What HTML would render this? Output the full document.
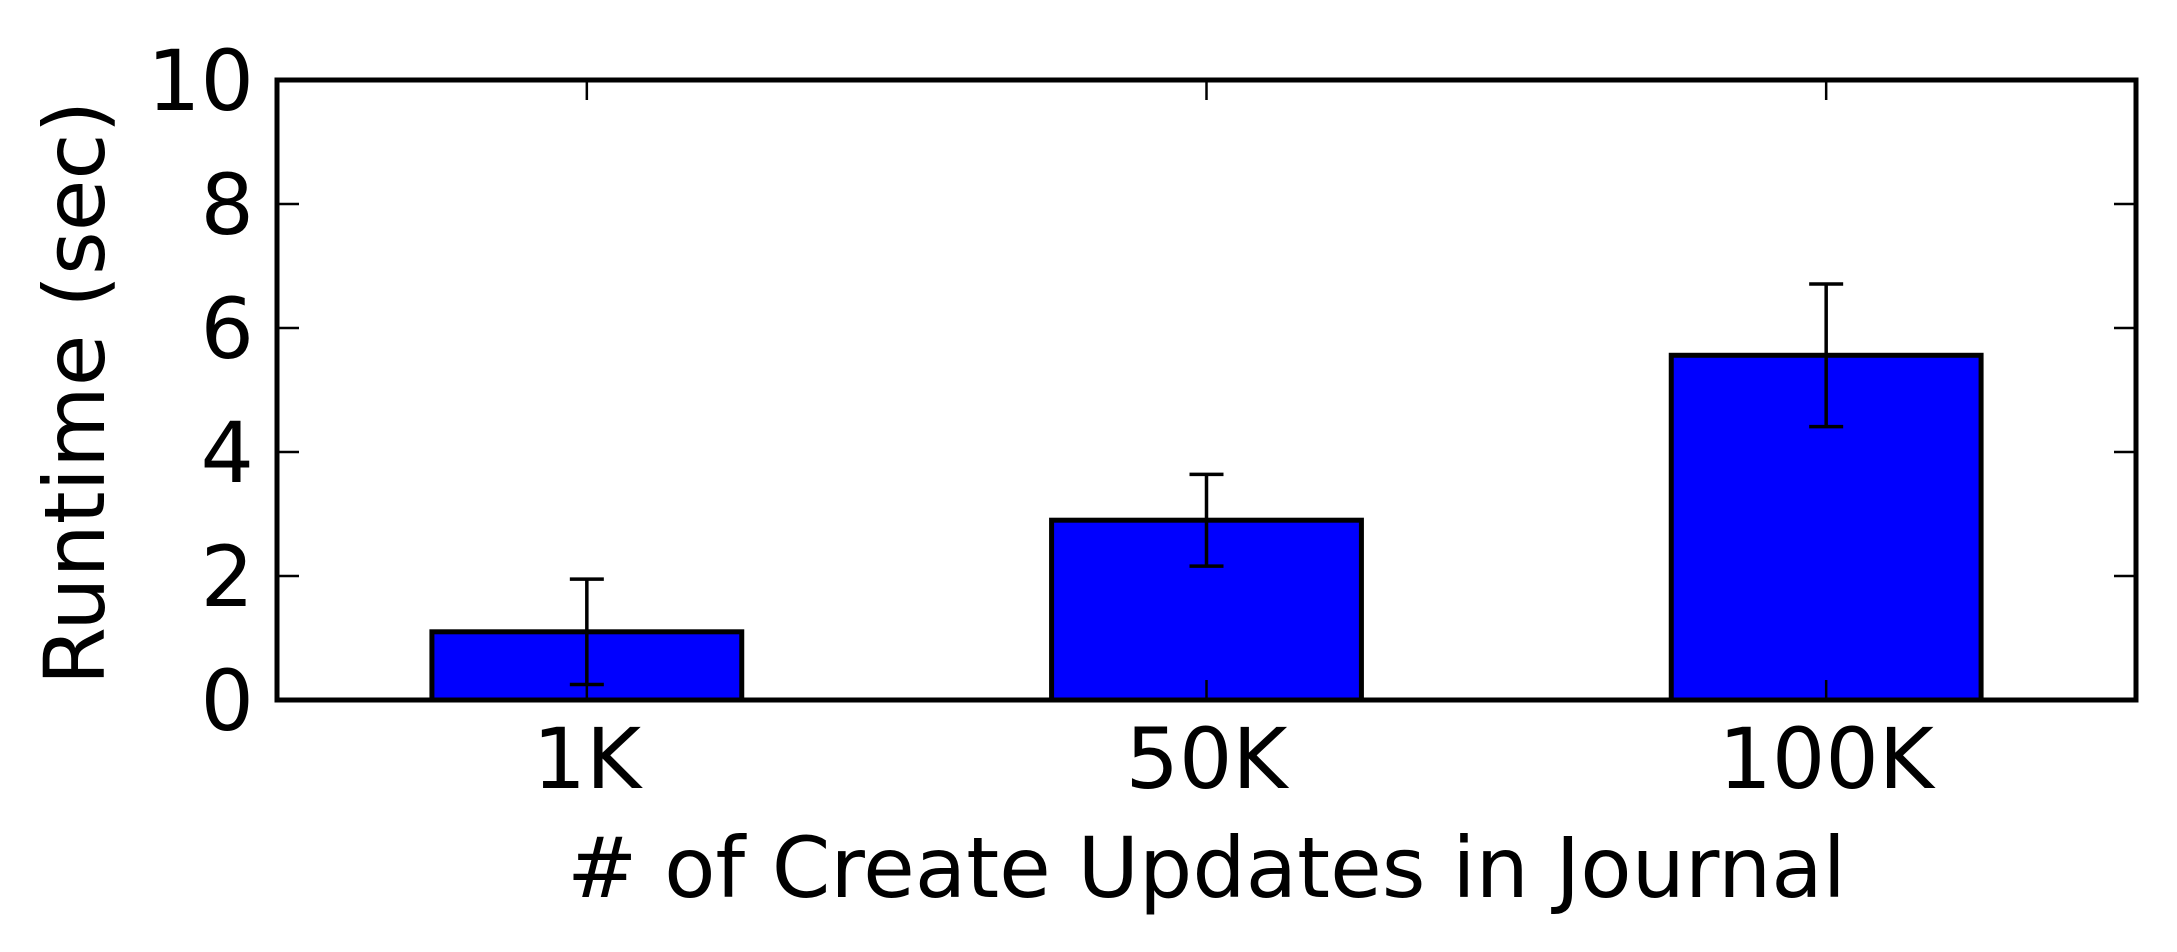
<!DOCTYPE html>
<html><head><meta charset="utf-8"><style>
html,body{margin:0;padding:0;background:#fff;}
svg{display:block;}
text{font-family:"DejaVu Sans","Liberation Sans",sans-serif;fill:#000;}
</style></head><body>
<svg id="chart" width="2177" height="952" viewBox="0 0 2177 952" xmlns="http://www.w3.org/2000/svg"></svg>
<script>
const categories = ["1K", "50K", "100K"];
const runtimes = [1.1, 2.9, 5.56];
const errors = [0.85, 0.74, 1.15];
const yTicks = [0, 2, 4, 6, 8, 10];
const yTickLabels = ["0", "2", "4", "6", "8", "10"];

const L = 277, R = 2136, T = 80, B = 700;
const yMax = 10;
const svg = document.getElementById('chart');
const NS = 'http://www.w3.org/2000/svg';
function x(i){ return L + (i + 0.5) * (R - L) / categories.length; }
function y(v){ return B - v / yMax * (B - T); }
const bandW = (R - L) / categories.length;
function mk(tag, attrs){ const e = document.createElementNS(NS, tag); for (const k in attrs) e.setAttribute(k, attrs[k]); svg.appendChild(e); return e; }

categories.forEach((c, i) => {
  const cx = x(i), w = bandW * 0.5;
  const bar = mk('rect', {x: cx - w/2, y: y(runtimes[i]), width: w, height: B - y(runtimes[i]), fill: '#0000ff', stroke: '#000', 'stroke-width': 5});
  
  
  const g = document.createElementNS(NS, 'g');
  
  
  svg.appendChild(g);
  const lo = y(runtimes[i] - errors[i]), hi = y(runtimes[i] + errors[i]);
  [[cx, lo, cx, hi], [cx - 17, lo, cx + 17, lo], [cx - 17, hi, cx + 17, hi]].forEach(p => {
    const l = document.createElementNS(NS, 'line');
    l.setAttribute('x1', p[0]); l.setAttribute('y1', p[1]); l.setAttribute('x2', p[2]); l.setAttribute('y2', p[3]);
    l.setAttribute('stroke', '#000'); l.setAttribute('stroke-width', 3.5);
    g.appendChild(l);
  });
  mk('line', {x1: cx, y1: B, x2: cx, y2: B - 20, stroke: '#000', 'stroke-width': 2.5});
  mk('line', {x1: cx, y1: T, x2: cx, y2: T + 20, stroke: '#000', 'stroke-width': 2.5});
  const t = mk('text', {x: cx, y: 788, 'font-size': 84, 'text-anchor': 'middle'});
  t.textContent = c;
  
  
});

yTicks.forEach((v, i) => {
  const yy = y(v);
  if (v > 0 && v < yMax) {
    mk('line', {x1: L, y1: yy, x2: L + 22, y2: yy, stroke: '#000', 'stroke-width': 2.5});
    mk('line', {x1: R, y1: yy, x2: R - 22, y2: yy, stroke: '#000', 'stroke-width': 2.5});
  }
  const t = mk('text', {x: 254, y: yy + 30, 'font-size': 84, 'text-anchor': 'end'});
  t.textContent = yTickLabels[i];
  
  
});

const frame = mk('rect', {x: L, y: T, width: R - L, height: B - T, fill: 'none', stroke: '#000', 'stroke-width': 5});



const xt = mk('text', {x: (L + R) / 2, y: 897, 'font-size': 84, 'text-anchor': 'middle'});
xt.textContent = '# of Create Updates in Journal';



const yt = mk('text', {x: 0, y: 0, 'font-size': 84, 'text-anchor': 'middle', transform: 'translate(104,393) rotate(-90)'});
yt.textContent = 'Runtime (sec)';


</script>
</body></html>
